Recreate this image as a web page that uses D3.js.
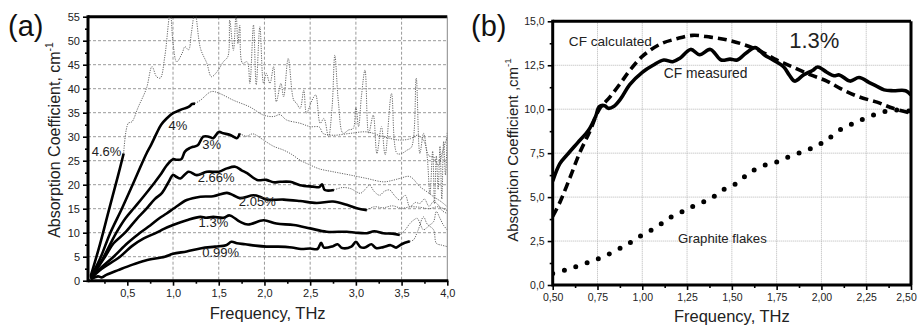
<!DOCTYPE html>
<html>
<head>
<meta charset="utf-8">
<script src="https://cdn.jsdelivr.net/npm/d3@7"></script>
<style>
  html, body { margin: 0; padding: 0; background: #fff; }
  svg { display: block; font-family: "Liberation Sans", Arial, sans-serif; }
</style>
</head>
<body>
<svg id="chart" width="918" height="325"></svg>
<script>
// ---- panel (a) data: [frequency THz, absorption cm^-1] ----
const curve46 = [[0.1,1.0],[0.2,7.5],[0.3,14.8],[0.4,22.0],[0.46,26.5]];
const curve4 = [[0.1,0.8],[0.2,4.5],[0.31,9.8],[0.44,15],[0.57,20.5],[0.65,24],[0.71,26.5],[0.76,28.3],[0.82,30.7],[0.87,32.5],[0.93,33.8],[1.0,34.9],[1.06,35.4],[1.11,35.8],[1.17,36.2],[1.21,36.8],[1.24,36.9]];
const curve3 = [[0.1,0.7],[0.2,3.5],[0.38,10],[0.48,13],[0.58,15.3],[0.68,17.6],[0.78,20],[0.86,22],[0.93,24],[1.0,25.3],[1.04,25.2],[1.09,25.3],[1.13,26.9],[1.18,27.6],[1.22,27.9],[1.27,28.2],[1.33,30.0],[1.39,30.0],[1.44,29.7],[1.5,31.0],[1.55,30.7],[1.62,30.4],[1.67,29.9],[1.7,29.7],[1.73,30.7]];
const curve266 = [[0.1,0.6],[0.256,5],[0.35,7.8],[0.475,10],[0.6,12.8],[0.71,15],[0.8,17],[0.88,18.3],[0.95,20.5],[1.0,22.0],[1.04,21.6],[1.08,21.3],[1.17,22.7],[1.26,22.0],[1.37,22.7],[1.5,22.7],[1.59,23.4],[1.68,23.75],[1.75,23],[1.81,22.4],[1.92,21.0],[2.02,21.0],[2.1,20.5],[2.17,20.6],[2.28,20.6],[2.39,19.9],[2.53,19.6],[2.6,19.5],[2.63,20.1],[2.66,18.9],[2.76,18.9]];
const curve205 = [[0.1,0.5],[0.2,2.5],[0.35,5],[0.5,7.8],[0.64,10],[0.75,11.5],[0.85,13],[0.93,14],[1.02,15.2],[1.15,16.8],[1.3,17.5],[1.44,17.6],[1.59,18.3],[1.66,17.8],[1.73,17.2],[1.88,17.8],[1.95,17.5],[2.02,16.9],[2.21,16.9],[2.39,16.6],[2.57,16.2],[2.75,16.5],[2.9,15.8],[3.01,15.1],[3.12,14.7]];
const curve13 = [[0.1,0.4],[0.2,2.2],[0.42,5],[0.55,7.2],[0.68,8.8],[0.82,10],[0.9,10.8],[1.0,11.6],[1.15,12.6],[1.3,13.3],[1.36,13.1],[1.44,13.3],[1.55,13.1],[1.62,13.6],[1.73,12.3],[1.82,11.7],[1.99,12.6],[2.13,11.9],[2.32,11.6],[2.5,10.9],[2.68,10.2],[2.9,10.2],[3.0,10.0],[3.12,9.9],[3.2,10.3],[3.3,9.9],[3.4,9.8],[3.48,9.5]];
const curve099 = [[0.1,0.3],[0.18,0.9],[0.22,0.7],[0.27,1.2],[0.4,2.2],[0.55,3.3],[0.7,4.2],[0.91,5],[1.0,5.6],[1.15,6.1],[1.31,6.75],[1.46,7.1],[1.58,7.4],[1.64,8.1],[1.7,7.8],[1.79,7.6],[1.9,7.3],[2.02,7.1],[2.15,7.1],[2.3,6.9],[2.4,6.6],[2.5,6.7],[2.58,6.6],[2.62,7.9],[2.65,6.9],[2.75,7.2],[2.8,7.6],[2.85,6.8],[2.95,7.1],[3.0,8.1],[3.05,7.0],[3.1,6.9],[3.17,7.6],[3.22,6.8],[3.3,7.0],[3.38,7.4],[3.44,6.9],[3.5,7.6],[3.59,8.2]];

// dotted continuations
const dot46 = [[0.46,26.5],[0.51,32.8],[0.55,33.1],[0.62,36.2],[0.71,40.1],[0.77,44.6],[0.82,42.5],[0.86,42.2],[0.91,46.7],[0.97,56],[1.0,49.5],[1.04,45.6],[1.1,47.4],[1.13,48.75],[1.17,48.1],[1.2,51.5],[1.24,56],[1.3,48.4],[1.37,45.3],[1.42,42.5],[1.48,43.5],[1.55,45.6],[1.6,46.7],[1.62,54.3],[1.66,48],[1.69,55.5],[1.71,49.4],[1.73,53.2],[1.76,45.3],[1.81,45.6],[1.84,41.1],[1.88,53.3],[1.91,40.8],[1.95,52.9],[1.99,41.1],[2.02,43.2],[2.06,41.1],[2.1,44.6],[2.13,37.3],[2.18,41.1],[2.21,38.3],[2.26,46.3],[2.32,37.6],[2.35,37],[2.39,35.9],[2.43,39.7],[2.46,34.9],[2.52,37.6],[2.56,38.7],[2.61,32.8],[2.65,33.8],[2.7,30],[2.74,36.2],[2.77,47],[2.81,37],[2.86,30.7],[2.92,31.4],[2.97,31.7],[3.0,36.2],[3.03,32.1],[3.06,38.3],[3.1,43.9],[3.14,30.7],[3.19,34.5],[3.23,26.5],[3.28,32.1],[3.32,26.2],[3.39,39],[3.45,26.5],[3.5,26.5],[3.56,27.2],[3.61,27.9],[3.66,42.2],[3.7,26.5],[3.74,30.7],[3.78,25.8],[3.81,18],[3.84,27],[3.86,16],[3.88,26],[3.9,19],[3.92,28],[3.94,17],[3.96,29],[3.98,22],[4.0,31]];
const dot4 = [[1.24,36.9],[1.3,37.6],[1.42,39.4],[1.51,39],[1.66,37.6],[1.84,36.2],[1.99,34.5],[2.1,34.2],[2.17,34.6],[2.24,33.5],[2.39,32.8],[2.5,32.1],[2.6,32],[2.64,30.7],[2.75,30.3],[2.94,30.7],[3.12,31],[3.3,30],[3.48,29.3],[3.6,29.6],[3.67,30.3],[3.74,29.3],[3.8,26],[3.85,25.8],[3.9,24],[3.95,27],[4.0,30]];
const dot3 = [[1.73,30.7],[1.8,30.1],[1.87,30.6],[1.92,30.2],[1.99,29.3],[2.1,28.0],[2.21,27.2],[2.3,26.3],[2.39,25.1],[2.5,24.1],[2.6,23.3],[2.75,22.7],[2.94,22],[3.12,21.3],[3.3,20.6],[3.4,20.9],[3.48,21.3],[3.59,21.7],[3.7,19.6],[3.78,18.5],[3.85,17.5],[3.93,16.5],[4.0,15.4]];
const dot266 = [[2.76,18.9],[2.85,19.4],[2.94,19.2],[3.0,18.6],[3.05,18.2],[3.1,19.0],[3.15,19.9],[3.2,18.6],[3.26,17.8],[3.31,18.6],[3.37,18.9],[3.42,17.8],[3.48,16.8],[3.54,17.8],[3.59,15.4],[3.65,16.3],[3.7,16.1],[3.75,17],[3.8,15.5],[3.85,16.5],[3.9,15.8],[3.95,14.5],[4.0,14]];
const dot205 = [[3.12,14.7],[3.2,15.4],[3.3,15.2],[3.4,15.6],[3.5,15.1],[3.6,15.4],[3.7,15.3],[3.8,15.0],[3.9,15.4],[4.0,14.6]];
const dot13 = [[3.48,9.5],[3.54,10.6],[3.59,11.9],[3.63,12.6],[3.67,13],[3.7,12.0],[3.74,10.6],[3.8,11.5],[3.85,12.3],[3.88,14.4],[3.92,13],[3.96,11.5],[4.0,10.6]];
const dot099 = [[3.59,8.2],[3.63,8.5],[3.68,10.5],[3.74,13.3],[3.78,11.8],[3.85,10.6],[3.88,7.8],[3.94,7.4],[4.0,7.1]];

const labelsA = [["4.6%",0.11,26],["4%",0.95,31.5],["3%",1.32,27.5],["2.66%",1.27,20.5],["2.05%",1.72,15.5],["1.3%",1.28,11.2],["0.99%",1.32,5]];

// ---- panel (b) data ----
const cfMeasured = [[0.5,5.9],[0.54,6.9],[0.58,7.4],[0.64,8.1],[0.7,8.8],[0.74,9.6],[0.76,10.15],[0.79,10.2],[0.81,10.05],[0.84,10.15],[0.88,10.6],[0.93,11.4],[1.0,12.1],[1.06,12.5],[1.12,12.8],[1.17,12.7],[1.21,12.9],[1.27,13.4],[1.32,13.1],[1.38,13.4],[1.44,12.8],[1.49,12.85],[1.53,12.8],[1.58,13.2],[1.63,13.5],[1.68,13.1],[1.73,12.8],[1.79,12.4],[1.82,11.95],[1.85,11.6],[1.9,11.95],[1.95,12.2],[1.98,12.4],[2.03,12.1],[2.07,11.9],[2.1,11.95],[2.16,11.6],[2.21,11.8],[2.27,11.5],[2.31,11.3],[2.35,11.1],[2.4,11.05],[2.47,11.05],[2.5,10.8]];
const cfCalculated = [[0.5,3.9],[0.54,4.7],[0.6,6.2],[0.65,7.5],[0.71,8.8],[0.76,10.0],[0.82,10.7],[0.88,11.5],[0.93,12.2],[1.0,13.0],[1.1,13.7],[1.19,14.0],[1.28,14.2],[1.38,14.1],[1.47,13.95],[1.56,13.7],[1.66,13.3],[1.75,12.8],[1.84,12.4],[1.94,11.95],[2.03,11.6],[2.12,11.1],[2.21,10.7],[2.31,10.4],[2.4,10.05],[2.49,9.8]];
const graphite = [[0.5,0.66],[0.57,0.85],[0.63,1.04],[0.71,1.33],[0.78,1.6],[0.86,2.0],[0.93,2.4],[1.0,2.85],[1.08,3.3],[1.15,3.8],[1.23,4.2],[1.3,4.55],[1.38,4.9],[1.45,5.4],[1.53,5.8],[1.6,6.4],[1.68,6.8],[1.75,7.0],[1.82,7.3],[1.9,7.6],[1.97,7.9],[2.03,8.25],[2.1,8.8],[2.18,9.2],[2.25,9.5],[2.33,9.8],[2.4,9.95],[2.49,9.9]];

const xTicksA = [0.5,1.0,1.5,2.0,2.5,3.0,3.5,4.0];
const yTicksA = d3.range(0, 56, 5);
const xTicksB = [0.5,0.75,1.0,1.25,1.5,1.75,2.0,2.25,2.5];
const yTicksB = [0,2.5,5,7.5,10,12.5,15];

const svg = d3.select("#chart");
const comma = f => (v => d3.format(f)(v).replace(".", ","));

function drawPanel(o) {
    const g = svg.append("g");
    const x = d3.scaleLinear().domain(o.xDom).range([o.left, o.right]);
    const y = d3.scaleLinear().domain(o.yDom).range([o.bottom, o.top]);

    g.append("clipPath").attr("id", o.id)
        .append("rect").attr("x", o.left).attr("y", o.top)
        .attr("width", o.right - o.left).attr("height", o.bottom - o.top);

    // grid
    g.append("g").selectAll("line").data(o.xTicks.slice(1, -1)).join("line")
        .attr("x1", d => x(d)).attr("x2", d => x(d)).attr("y1", o.top).attr("y2", o.bottom)
        .attr("stroke", o.gridColor).attr("stroke-width", 1).attr("stroke-dasharray", o.gridDash);
    g.append("g").selectAll("line").data(o.yTicks.slice(1, -1)).join("line")
        .attr("y1", d => y(d)).attr("y2", d => y(d)).attr("x1", o.left).attr("x2", o.right)
        .attr("stroke", o.gridColor).attr("stroke-width", 1).attr("stroke-dasharray", o.gridDash);

    // axes
    const xa = g.append("g").attr("transform", `translate(0,${o.bottom})`)
        .call(d3.axisBottom(x).tickValues(o.xTicks).tickFormat(o.xFmt).tickSize(5).tickPadding(4));
    g.append("g").attr("transform", `translate(0,${o.bottom})`)
        .call(d3.axisBottom(x).tickValues(o.xMinor).tickFormat("").tickSize(3));
    const ya = g.append("g").attr("transform", `translate(${o.left},0)`)
        .call(d3.axisLeft(y).tickValues(o.yTicks).tickFormat(o.yFmt).tickSize(5).tickPadding(3));
    g.append("g").attr("transform", `translate(${o.left},0)`)
        .call(d3.axisLeft(y).tickValues(o.yMinor).tickFormat("").tickSize(3));
    g.selectAll(".domain").remove();
    g.selectAll(".tick line").attr("stroke", "#000").attr("stroke-width", 1.6);
    xa.selectAll("text").attr("font-size", o.tickFont).attr("fill", "#222").attr("font-family", "Liberation Sans, Arial");
    ya.selectAll("text").attr("font-size", o.tickFont).attr("fill", "#222").attr("font-family", "Liberation Sans, Arial");
    // keep the last label inside the page
    if (o.lastLabelShift) {
        xa.selectAll(".tick text").filter((d, i, n) => i === n.length - 1).attr("dx", -o.lastLabelShift);
    }

    // frame
    g.append("line").attr("x1", o.left).attr("x2", o.right).attr("y1", o.top).attr("y2", o.top)
        .attr("stroke", "#000").attr("stroke-width", 3);
    g.append("line").attr("x1", o.right).attr("x2", o.right).attr("y1", o.top).attr("y2", o.bottom)
        .attr("stroke", o.rightColor).attr("stroke-width", o.rightWidth);
    g.append("line").attr("x1", o.left).attr("x2", o.left).attr("y1", o.top - 1.5).attr("y2", o.bottom + 1.5)
        .attr("stroke", "#000").attr("stroke-width", 3);
    g.append("line").attr("x1", o.left).attr("x2", o.right + 1).attr("y1", o.bottom).attr("y2", o.bottom)
        .attr("stroke", "#000").attr("stroke-width", 3);

    // titles
    g.append("text").attr("x", (o.left + o.right) / 2).attr("y", o.xTitleY)
        .attr("text-anchor", "middle").attr("font-size", 16.5).attr("fill", "#222").text("Frequency, THz");
    const yt = g.append("text")
        .attr("transform", `translate(${o.yTitleX},${o.yTitleY}) rotate(-90)`)
        .attr("text-anchor", "middle").attr("font-size", o.yTitleFont).attr("fill", "#222");
    yt.append("tspan").text(o.yTitle);
    yt.append("tspan").attr("dy", -7).attr("font-size", o.yTitleFont * 0.65).text("-1");
    g.append("text").attr("x", o.tagX).attr("y", 36).attr("font-size", 29).attr("fill", "#111").text(o.tag);

    const line = d3.line().x(d => x(d[0])).y(d => y(d[1])).curve(d3.curveCatmullRom.alpha(0.5));
    const plot = g.append("g").attr("clip-path", `url(#${o.id})`);
    return { x, y, line, plot, g };
}

// ---- panel (a) ----
const A = drawPanel({
    id: "clipA", xDom: [0.07, 4.0], yDom: [0, 55],
    left: 88, right: 447.3, top: 16.7, bottom: 280.7,
    xTicks: xTicksA, xMinor: [0.25,0.75,1.25,1.75,2.25,2.75,3.25,3.75],
    yTicks: yTicksA, yMinor: d3.range(2.5, 55, 5),
    xFmt: comma(".1f"), yFmt: d3.format("d"), tickFont: 11,
    gridColor: "#9a9a9a", gridDash: "3,2", rightColor: "#888", rightWidth: 1,
    xTitleY: 319, yTitleX: 60, yTitleY: 140, yTitleFont: 16,
    yTitle: "Absorption Coefficient, cm", tag: "(a)", tagX: 8
});

[dot46, dot4, dot3, dot266, dot205, dot13, dot099].forEach(d => {
    A.plot.append("path").attr("d", A.line(d)).attr("fill", "none")
        .attr("stroke", "#666").attr("stroke-width", 1).attr("stroke-dasharray", "1.2,1.2");
});
[curve46, curve4, curve3, curve266, curve205, curve13, curve099].forEach(d => {
    A.plot.append("path").attr("d", A.line(d)).attr("fill", "none")
        .attr("stroke", "#000").attr("stroke-width", 2.6).attr("stroke-linejoin", "round");
});
A.g.append("g").selectAll("text").data(labelsA).join("text")
    .attr("x", d => A.x(d[1])).attr("y", d => A.y(d[2]))
    .attr("font-size", 13).attr("fill", "#222").text(d => d[0]);

// ---- panel (b) ----
const B = drawPanel({
    id: "clipB", xDom: [0.5, 2.5], yDom: [0, 15],
    left: 552.7, right: 911, top: 21.3, bottom: 285,
    xTicks: xTicksB, xMinor: d3.range(0.625, 2.5, 0.25),
    yTicks: yTicksB, yMinor: d3.range(1.25, 15, 2.5),
    xFmt: comma(".2f"), yFmt: comma(".1f"), tickFont: 10.5,
    gridColor: "#b5b5b5", gridDash: "1,1", rightColor: "#000", rightWidth: 3,
    xTitleY: 322, yTitleX: 518, yTitleY: 150, yTitleFont: 15,
    yTitle: "Absorption Coefficient ,cm", tag: "(b)", tagX: 471,
    lastLabelShift: 5
});

B.plot.append("path").attr("d", B.line(graphite)).attr("fill", "none")
    .attr("stroke", "#000").attr("stroke-width", 5).attr("stroke-linecap", "round")
    .attr("stroke-dasharray", "0,12");
B.plot.append("path").attr("d", B.line(cfCalculated)).attr("fill", "none")
    .attr("stroke", "#000").attr("stroke-width", 3.6).attr("stroke-dasharray", "9,5");
B.plot.append("path").attr("d", B.line(cfMeasured)).attr("fill", "none")
    .attr("stroke", "#000").attr("stroke-width", 3.6).attr("stroke-linejoin", "round");

const labelsB = [["CF calculated", 0.59, 13.6, 13.6], ["CF measured", 1.12, 11.8, 13.8], ["Graphite flakes", 1.2, 2.4, 13.2], ["1.3%", 1.82, 13.5, 22]];
B.g.append("g").selectAll("text").data(labelsB).join("text")
    .attr("x", d => B.x(d[1])).attr("y", d => B.y(d[2]))
    .attr("font-size", d => d[3]).attr("fill", "#222").text(d => d[0]);
</script>
</body>
</html>
